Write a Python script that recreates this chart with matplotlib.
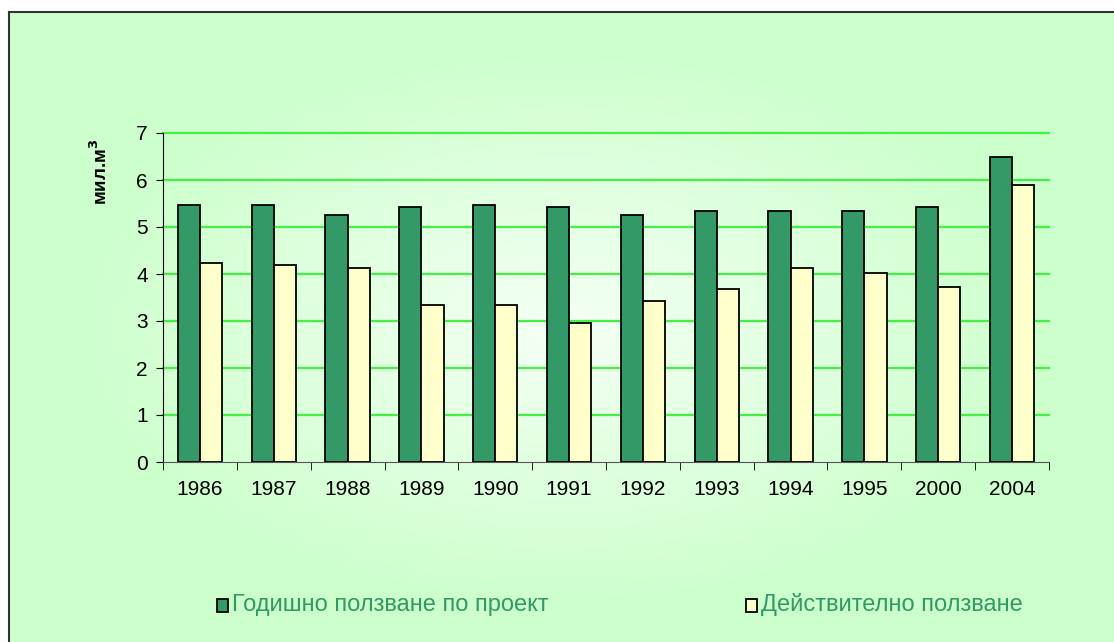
import numpy as np
import matplotlib
matplotlib.use("Agg")
import matplotlib.pyplot as plt
from matplotlib.patches import Rectangle

plt.rcParams["font.family"] = ["Liberation Sans", "DejaVu Sans"]

years = ["1986", "1987", "1988", "1989", "1990", "1991",
         "1992", "1993", "1994", "1995", "2000", "2004"]
planned = [5.47, 5.47, 5.26, 5.43, 5.47, 5.43, 5.26, 5.35, 5.35, 5.35, 5.43, 6.50]
actual = [4.24, 4.20, 4.12, 3.35, 3.35, 2.96, 3.43, 3.69, 4.12, 4.03, 3.73, 5.90]
series_names = ["Годишно ползване по проект", "Действително ползване"]

W, H = 1114, 642
fig = plt.figure(figsize=(W / 100, H / 100), dpi=100)
fig.patch.set_facecolor("white")

# radial gradient background inside the chart frame
bg = fig.add_axes([9 / W, 0, 1 - 9 / W, 1 - 12 / H])
yy, xx = np.mgrid[0:300, 0:500]
r = np.sqrt(((xx - 250) / 250) ** 2 + ((yy - 150) / 150) ** 2)
t = np.clip(r / 0.9, 0, 1)
c0 = np.array([0.96, 1.0, 0.96])
c1 = np.array([0.80, 1.0, 0.80])
img = c0[None, None, :] * (1 - t[..., None]) + c1[None, None, :] * t[..., None]
bg.imshow(img, aspect="auto", extent=[0, 1, 0, 1], interpolation="bilinear")
bg.set_xlim(0, 1)
bg.set_ylim(0, 1)
bg.set_xticks([])
bg.set_yticks([])
for side in ["right", "bottom"]:
    bg.spines[side].set_visible(False)
for side in ["left", "top"]:
    bg.spines[side].set_color("#333333")
    bg.spines[side].set_linewidth(1.5)

ax = fig.add_axes([163 / W, 1 - 462 / H, (1049 - 163) / W, (462 - 133) / H])
ax.patch.set_visible(False)

x = np.arange(len(years))
w = 0.3
ax.bar(x - w / 2, planned, width=w, color="#339966", edgecolor="black",
       linewidth=1.3, zorder=3, label=series_names[0])
ax.bar(x + w / 2, actual, width=w, color="#ffffcc", edgecolor="black",
       linewidth=1.3, zorder=3, label=series_names[1])

ax.set_xlim(-0.5, len(years) - 0.5)
ax.set_ylim(0, 7)
ax.set_yticks(range(0, 8))
for gy in range(1, 8):
    ax.axhline(gy, color="#44f044", linewidth=1.6, zorder=1, clip_on=False)

ax.set_xticks(x)
ax.set_xticklabels(years, fontsize=15)
ax.set_xticks(np.arange(-0.5, len(years)), minor=True)
ax.tick_params(axis="x", which="major", length=0, pad=13)
ax.tick_params(axis="x", which="minor", length=6, direction="out", color="black")
ax.tick_params(axis="y", length=5, direction="out", labelsize=15, pad=6)

for side in ["top", "right"]:
    ax.spines[side].set_visible(False)
ax.spines["left"].set_color("black")
ax.spines["bottom"].set_color("#555555")

fig.text(100 / W, 1 - 172 / H, "мил.м$^\\mathbf{3}$", rotation=90, fontsize=13.5,
         fontweight="bold", ha="center", va="center")

# legend drawn as two separate entries
green_txt = "#339966"
for (mx, label, fc) in [(222, series_names[0], "#339966"), (751, series_names[1], "#ffffcc")]:
    fig.patches.append(Rectangle(((mx - 5) / W, 1 - 612 / H), 11 / W, 13 / H,
                                 transform=fig.transFigure, facecolor=fc,
                                 edgecolor="black", linewidth=1.3))
    fig.text((mx + 10) / W, 1 - 605 / H, label, fontsize=17, color=green_txt,
             ha="left", va="center")

fig.savefig("out.png", dpi=100)
